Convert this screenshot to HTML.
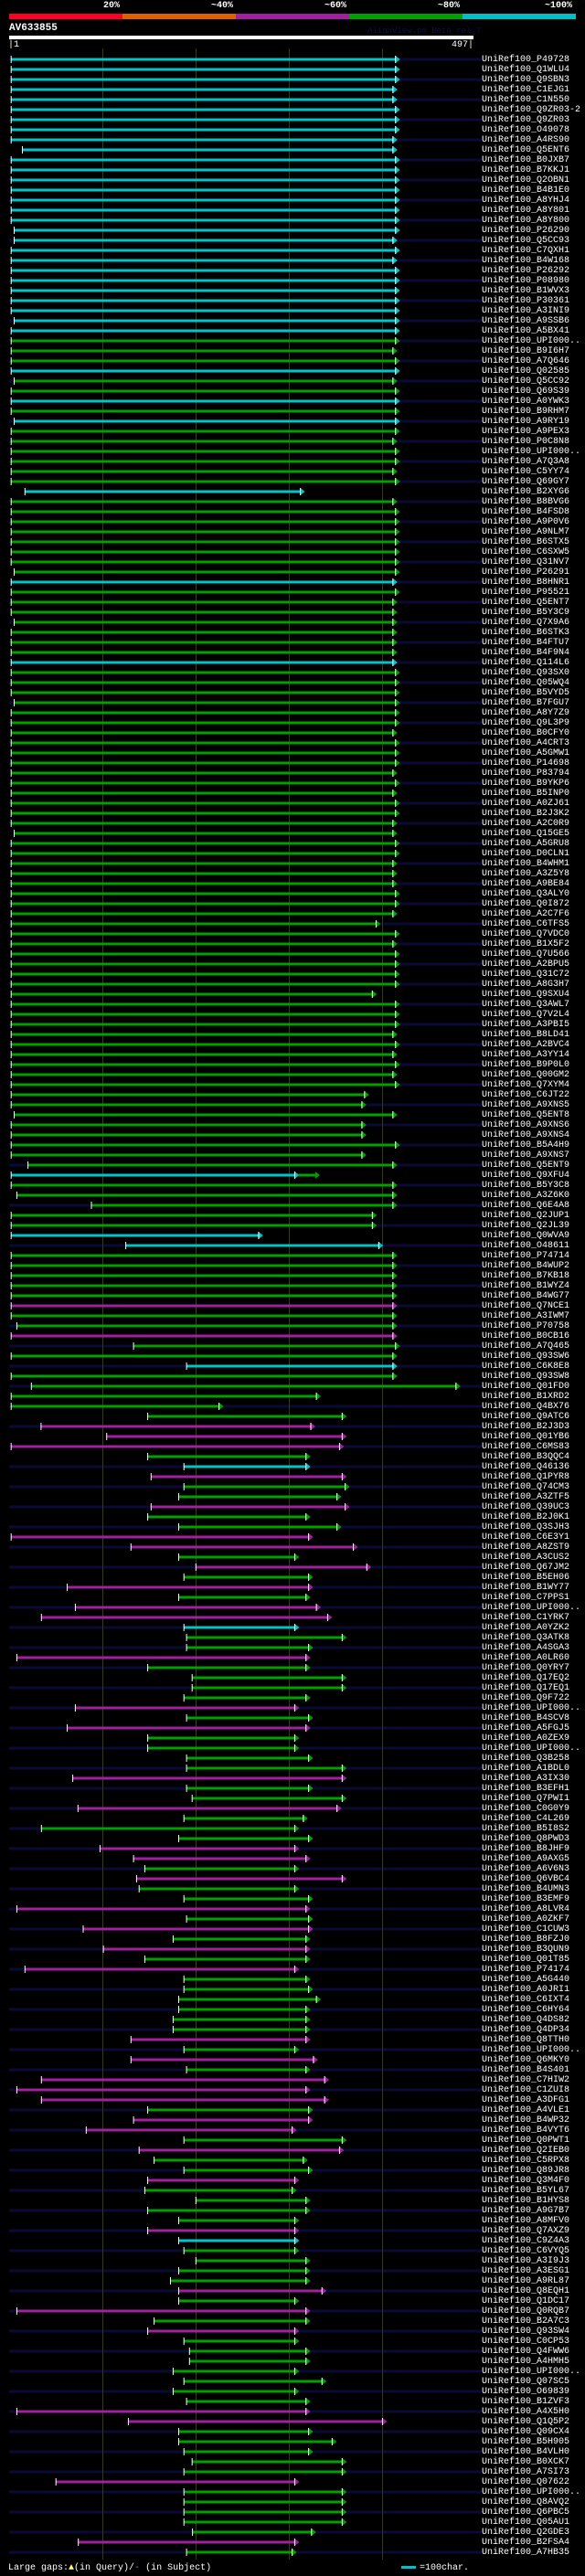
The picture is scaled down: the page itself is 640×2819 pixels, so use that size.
<!DOCTYPE html>
<html><head><meta charset="utf-8">
<style>
html,body{margin:0;padding:0;background:#000;}
body{width:640px;height:2819px;position:relative;overflow:hidden;font-family:"Liberation Mono",monospace;color:#fff;}
.t{position:absolute;white-space:pre;font-size:10px;line-height:11px;}
#labels{position:absolute;left:527px;top:60px;font-size:10px;line-height:11px;white-space:pre;color:#fff;}
svg{position:absolute;left:0;top:0;}
</style></head><body>
<svg id="s" width="640" height="2819" xmlns="http://www.w3.org/2000/svg">
<rect x="10" y="15" width="124" height="6" fill="#ff0022"/>
<rect x="134" y="15" width="124" height="6" fill="#e06000"/>
<rect x="258" y="15" width="124" height="6" fill="#a020a0"/>
<rect x="382" y="15" width="124" height="6" fill="#00a000"/>
<rect x="506" y="15" width="124" height="6" fill="#00c0c8"/>
<rect x="10" y="39" width="508" height="4" fill="#fff"/>
<rect x="439" y="2808" width="16" height="3" fill="#00c0c8"/>
<g id="g"></g>
</svg>
<div class="t" style="left:113px;top:1px;font-weight:bold;">20%</div>
<div class="t" style="left:231px;top:1px;font-weight:bold;">~40%</div>
<div class="t" style="left:355px;top:1px;font-weight:bold;">~60%</div>
<div class="t" style="left:479px;top:1px;font-weight:bold;">~80%</div>
<div class="t" style="left:596px;top:1px;font-weight:bold;">~100%</div>
<div class="t" style="left:10px;top:26px;font-weight:bold;font-size:11px;">AV633855</div>
<div class="t" style="left:402px;top:29px;color:#101048;font-size:9px;">AlignView.pm Beta rel.7</div>
<div class="t" style="left:9px;top:44px;">|1</div>
<div class="t" style="left:494px;top:44px;">497|</div>
<div class="t" style="left:9px;top:2805px;">Large gaps:<span style="color:#ffff80">&#9650;</span>(in Query)/<span style="color:#00c0c8">-</span> (in Subject)</div>
<div class="t" style="left:459px;top:2805px;">=100char.</div>
<div id="labels">UniRef100_P49728
UniRef100_Q1WLU4
UniRef100_Q9SBN3
UniRef100_C1EJG1
UniRef100_C1N550
UniRef100_Q9ZR03-2
UniRef100_Q9ZR03
UniRef100_O49078
UniRef100_A4RS90
UniRef100_Q5ENT6
UniRef100_B0JXB7
UniRef100_B7KKJ1
UniRef100_Q2OBN1
UniRef100_B4B1E0
UniRef100_A8YHJ4
UniRef100_A8Y801
UniRef100_A8Y800
UniRef100_P26290
UniRef100_Q5CC93
UniRef100_C7QXH1
UniRef100_B4W168
UniRef100_P26292
UniRef100_P08980
UniRef100_B1WVX3
UniRef100_P30361
UniRef100_A3INI9
UniRef100_A9SSB6
UniRef100_A5BX41
UniRef100_UPI000..
UniRef100_B9I6H7
UniRef100_A7Q646
UniRef100_Q02585
UniRef100_Q5CC92
UniRef100_Q69S39
UniRef100_A0YWK3
UniRef100_B9RHM7
UniRef100_A9RY19
UniRef100_A9PEX3
UniRef100_P0C8N8
UniRef100_UPI000..
UniRef100_A7Q3A8
UniRef100_C5YY74
UniRef100_Q69GY7
UniRef100_B2XYG6
UniRef100_B8BVG6
UniRef100_B4FSD8
UniRef100_A9P0V6
UniRef100_A9NLM7
UniRef100_B6STX5
UniRef100_C6SXW5
UniRef100_Q31NV7
UniRef100_P26291
UniRef100_B8HNR1
UniRef100_P95521
UniRef100_Q5ENT7
UniRef100_B5Y3C9
UniRef100_Q7X9A6
UniRef100_B6STK3
UniRef100_B4FTU7
UniRef100_B4F9N4
UniRef100_Q114L6
UniRef100_Q93SX0
UniRef100_Q05WQ4
UniRef100_B5VYD5
UniRef100_B7FGU7
UniRef100_A8Y7Z9
UniRef100_Q9L3P9
UniRef100_B0CFY0
UniRef100_A4CRT3
UniRef100_A5GMW1
UniRef100_P14698
UniRef100_P83794
UniRef100_B9YKP6
UniRef100_B5INP0
UniRef100_A0ZJ61
UniRef100_B2J3K2
UniRef100_A2C0R9
UniRef100_Q15GE5
UniRef100_A5GRU8
UniRef100_D0CLN1
UniRef100_B4WHM1
UniRef100_A3Z5Y8
UniRef100_A9BE84
UniRef100_Q3ALY0
UniRef100_Q0I872
UniRef100_A2C7F6
UniRef100_C6TFS5
UniRef100_Q7VDC0
UniRef100_B1X5F2
UniRef100_Q7U566
UniRef100_A2BPU5
UniRef100_Q31C72
UniRef100_A8G3H7
UniRef100_Q9SXU4
UniRef100_Q3AWL7
UniRef100_Q7V2L4
UniRef100_A3PBI5
UniRef100_B8LD41
UniRef100_A2BVC4
UniRef100_A3YY14
UniRef100_B9P0L0
UniRef100_Q00GM2
UniRef100_Q7XYM4
UniRef100_C6JT22
UniRef100_A9XNS5
UniRef100_Q5ENT8
UniRef100_A9XNS6
UniRef100_A9XNS4
UniRef100_B5A4H9
UniRef100_A9XNS7
UniRef100_Q5ENT9
UniRef100_Q9XFU4
UniRef100_B5Y3C8
UniRef100_A3Z6K0
UniRef100_Q6E4A8
UniRef100_Q2JUP1
UniRef100_Q2JL39
UniRef100_Q0WVA9
UniRef100_O48611
UniRef100_P74714
UniRef100_B4WUP2
UniRef100_B7KB18
UniRef100_B1WYZ4
UniRef100_B4WG77
UniRef100_Q7NCE1
UniRef100_A3IWM7
UniRef100_P70758
UniRef100_B0CB16
UniRef100_A7Q465
UniRef100_Q93SW6
UniRef100_C6K8E8
UniRef100_Q93SW8
UniRef100_Q01FD0
UniRef100_B1XRD2
UniRef100_Q4BX76
UniRef100_Q9ATC6
UniRef100_B2J3D3
UniRef100_Q01YB6
UniRef100_C6MS83
UniRef100_B3QQC4
UniRef100_Q46136
UniRef100_Q1PYR8
UniRef100_Q74CM3
UniRef100_A3ZTF5
UniRef100_Q39UC3
UniRef100_B2J0K1
UniRef100_Q3SJH3
UniRef100_C6E3Y1
UniRef100_A8ZST9
UniRef100_A3CUS2
UniRef100_Q67JM2
UniRef100_B5EH06
UniRef100_B1WY77
UniRef100_C7PPS1
UniRef100_UPI000..
UniRef100_C1YRK7
UniRef100_A0YZK2
UniRef100_Q3ATK8
UniRef100_A4SGA3
UniRef100_A0LR60
UniRef100_Q0YRY7
UniRef100_Q17EQ2
UniRef100_Q17EQ1
UniRef100_Q9F722
UniRef100_UPI000..
UniRef100_B4SCV8
UniRef100_A5FGJ5
UniRef100_A0ZEX9
UniRef100_UPI000..
UniRef100_Q3B258
UniRef100_A1BDL0
UniRef100_A3IX30
UniRef100_B3EFH1
UniRef100_Q7PWI1
UniRef100_C0G0Y9
UniRef100_C4L269
UniRef100_B5I8S2
UniRef100_Q8PWD3
UniRef100_B8JHF9
UniRef100_A9AXG5
UniRef100_A6V6N3
UniRef100_Q6VBC4
UniRef100_B4UMN3
UniRef100_B3EMF9
UniRef100_A8LVR4
UniRef100_A0ZKF7
UniRef100_C1CUW3
UniRef100_B8FZJ0
UniRef100_B3QUN9
UniRef100_Q01T85
UniRef100_P74174
UniRef100_A5G440
UniRef100_A0JRI1
UniRef100_C6IXT4
UniRef100_C6HY64
UniRef100_Q4DS82
UniRef100_Q4DP34
UniRef100_Q8TTH0
UniRef100_UPI000..
UniRef100_Q6MKY0
UniRef100_B4S401
UniRef100_C7HIW2
UniRef100_C1ZUI8
UniRef100_A3DFG1
UniRef100_A4VLE1
UniRef100_B4WP32
UniRef100_B4VYT6
UniRef100_Q0PWT1
UniRef100_Q2IEB0
UniRef100_C5RPX8
UniRef100_Q89JR8
UniRef100_Q3M4F0
UniRef100_B5YL67
UniRef100_B1HYS8
UniRef100_A9G7B7
UniRef100_A8MFV0
UniRef100_Q7AXZ9
UniRef100_C9Z4A3
UniRef100_C6VYQ5
UniRef100_A3I9J3
UniRef100_A3ESG1
UniRef100_A9RL87
UniRef100_Q8EQH1
UniRef100_Q1DC17
UniRef100_Q0RQB7
UniRef100_B2A7C3
UniRef100_Q93SW4
UniRef100_C0CP53
UniRef100_Q4FWW6
UniRef100_A4HMH5
UniRef100_UPI000..
UniRef100_Q07SC5
UniRef100_O69839
UniRef100_B1ZVF3
UniRef100_A4X5H0
UniRef100_Q1Q5P2
UniRef100_Q09CX4
UniRef100_B5H905
UniRef100_B4VLH0
UniRef100_B0XCK7
UniRef100_A7SI73
UniRef100_Q07622
UniRef100_UPI000..
UniRef100_Q8AVQ2
UniRef100_Q6PBC5
UniRef100_Q05AU1
UniRef100_Q2GDE3
UniRef100_B2FSA4
UniRef100_A7HB35</div>
<script>
var D="c30,1060 c30,1060 c30,1060 c30,1053 c30,1053 c30,1060 c30,1060 c30,1060 c30,1053 c60,1053 "+
"c30,1060 c30,1060 c30,1060 c30,1060 c30,1060 c30,1060 c30,1060 c38,1060 c38,1053 c30,1060 "+
"c30,1053 c30,1060 c30,1060 c30,1060 c30,1060 "+
"c30,1060 c38,1060 c30,1060 g30,1060 g30,1053 g30,1060 c30,1060 g38,1053 g30,1060 c30,1060 "+
"g30,1060 c38,1060 g30,1060 g30,1053 g30,1060 g30,1060 g30,1053 g30,1060 c67,805 g30,1053 "+
"g30,1060 g30,1060 g30,1060 g30,1060 g30,1060 "+
"g30,1060 g38,1060 c30,1053 g30,1060 g30,1053 g30,1053 g38,1053 g30,1053 g30,1053 g30,1053 "+
"c30,1053 g30,1060 g30,1060 g30,1060 g38,1060 g30,1060 g30,1060 g30,1053 g30,1060 g30,1060 "+
"g30,1060 g30,1053 g30,1060 g30,1053 g30,1060 "+
"g30,1060 g30,1053 g38,1053 g30,1060 g30,1060 g30,1053 g30,1053 g30,1053 g30,1060 g30,1060 "+
"g30,1053 g30,1008 g30,1060 g30,1053 g30,1060 g30,1060 g30,1060 g30,1060 g30,998 g30,1060 "+
"g30,1060 g30,1060 g30,1053 g30,1060 g30,1053 "+
"g30,1060 g30,1053 g30,1060 g30,977 g30,970 g38,1053 g30,970 g30,970 g30,1060 g30,970 "+
"g75,1053 c30,790 g30,1053 g45,1053 g245,1053 g30,998 g30,998 c30,693 c337,1015 g30,1053 "+
"g30,1053 g30,1053 g30,1053 g30,1053 p30,1053 "+
"g30,1053 g45,1053 p30,1053 g358,1060 g30,1053 c500,1053 g30,1053 g84,1222 g30,848 g30,587 "+
"g396,917 p110,833 p286,917 p30,910 g396,820 c493,820 p405,917 g493,925 g479,903 p405,925 "+
"g396,820 g479,903 p30,827 p351,947 g479,790 "+
"p525,983 g493,827 p180,827 g479,820 p202,848 p111,878 c493,790 g500,917 g500,827 p45,820 "+
"g396,820 g515,917 g515,917 g493,820 p202,790 g500,827 p180,820 g396,790 g396,790 g500,827 "+
"g500,917 p195,917 g500,827 g515,917 p209,903 "+
"g493,813 g111,790 g479,827 p268,790 p358,820 g388,790 p366,917 g373,790 g493,827 p45,820 "+
"g500,827 p223,827 g464,820 p277,820 g388,820 p67,790 g493,820 g493,827 g479,848 g479,820 "+
"g464,820 g464,820 p351,820 g493,790 p351,840 "+
"g500,820 p111,870 p45,820 p111,870 g396,827 p358,827 p231,783 g493,917 p373,910 g413,813 "+
"g493,827 p396,790 g388,783 g525,820 g396,820 g479,790 p396,790 c479,790 g493,790 g525,820 "+
"g479,820 g457,820 p479,863 g479,790 p45,820 "+
"g413,820 p396,790 g493,790 g508,820 g508,820 g464,790 g493,863 g464,790 g500,820 p45,820 "+
"p344,1025 g479,827 g479,890 g493,827 g515,917 g493,917 p150,790 g493,917 g493,917 g493,917 "+
"g493,917 g516,835 p210,790 g500,783";
var C={c:"#00c4c8",g:"#00a000",p:"#a020a0"};
var k=640/1568,h='';
var rows=D.split(' ');
for(var i=0;i<rows.length;i++){var y=65+11*i;if(i%2==0)h+='<rect x="10" y="'+(y-1.5)+'" width="517" height="3" fill="#0a0a36"/>';}
[112,214,316,418].forEach(function(x){h+='<rect x="'+x+'" y="53" width="1" height="2748" fill="#3a3a12"/>';});
for(var i=0;i<rows.length;i++){
 var r=rows[i],c=C[r[0]],p=r.slice(1).split(','),s=+p[0]*k,e=+p[1]*k,y=65+11*i;
 h+='<rect x="'+s.toFixed(1)+'" y="'+(y-1.5)+'" width="'+(e-s).toFixed(1)+'" height="3" fill="'+c+'"/>';
 h+='<polygon points="'+e.toFixed(1)+','+(y-4)+' '+(e+5).toFixed(1)+','+y+' '+e.toFixed(1)+','+(y+4)+'" fill="'+c+'"/>';
 h+='<rect x="'+(s-0.5).toFixed(1)+'" y="'+(y-4)+'" width="1" height="8" fill="#fff"/>';
 h+='<rect x="'+(e-0.5).toFixed(1)+'" y="'+(y-4)+'" width="1" height="8" fill="#fff"/>';
 if(i==111){var a=800*k,b=845*k;h+='<rect x="'+a+'" y="'+(y-1.5)+'" width="'+(b-a)+'" height="3" fill="#00a000"/><polygon points="'+b+','+(y-4)+' '+(b+5)+','+y+' '+b+','+(y+4)+'" fill="#00a000"/>';}
}
document.getElementById('g').innerHTML=h;
</script>
</body></html>
